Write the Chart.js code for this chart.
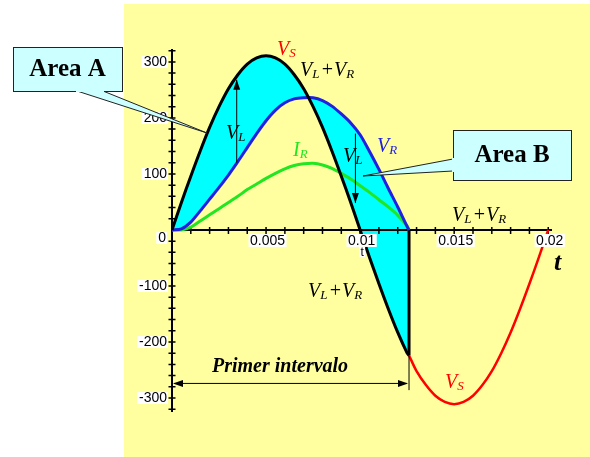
<!DOCTYPE html>
<html>
<head>
<meta charset="utf-8">
<script src="https://cdn.jsdelivr.net/npm/chart.js@4.4.1/dist/chart.umd.min.js"></script>
<style>
  body { margin: 0; background: #fff; }
  canvas { display: block; }
</style>
</head>
<body>
<canvas id="chart" width="590" height="457"></canvas>
<script>
// first half cycle: source voltage = VL + VR while the diode conducts
const tOn = [0, 0.0005, 0.001, 0.0015, 0.002, 0.0025, 0.003, 0.0035, 0.004, 0.0045, 0.005,
	0.0055, 0.006, 0.0065, 0.007, 0.0075, 0.008, 0.0085, 0.009, 0.0095, 0.01,
	0.0105, 0.011, 0.0115, 0.012, 0.0125, 0.0126];
const vlvr = [0, 49, 96, 141, 183, 220, 252, 277, 296, 307, 311,
	307, 296, 277, 252, 220, 183, 141, 96, 49, 0,
	-49, -96, -141, -183, -220, -224];
const vr = [0, 2, 14, 34, 55, 76, 98, 122, 147, 172, 195,
	214, 227, 234, 236, 236, 231, 221, 207, 191, 170,
	140, 108, 74, 41, 6, 0];
const ir = [0, 0, 5, 16, 27, 38, 49, 60, 72, 82, 92,
	101, 109, 115, 118, 119, 116, 110, 101, 91, 79,
	67, 54, 41, 26, 7, 0];

// rest of the cycle, diode off: only Vs
const tOff = [0.0126, 0.013, 0.0135, 0.014, 0.0145, 0.015, 0.0155, 0.016, 0.0165,
	0.017, 0.0175, 0.018, 0.0185, 0.019, 0.0195, 0.02];
const vsOff = [-224, -252, -277, -296, -307, -311, -307, -296, -277,
	-252, -220, -183, -141, -96, -49, 0];

const tCut = 0.0126;
const xTickLabels = [0.005, 0.01, 0.015, 0.02];
const yTickLabels = [300, 200, 100, 0, -100, -200, -300];

const pts = (xs, ys) => xs.map((x, i) => ({ x: x, y: ys[i] }));

function drawParts(ctx, x, y, parts, color) {
	let cx = x;
	ctx.fillStyle = color;
	ctx.textAlign = "left";
	ctx.textBaseline = "alphabetic";
	for (const [s, sub] of parts) {
		ctx.font = sub ? 'italic 13px "Liberation Serif"' : 'italic 20px "Liberation Serif"';
		ctx.fillText(s, cx, sub ? y + 2 : y);
		cx += ctx.measureText(s).width + (sub ? 1 : 0);
	}
}

function arrowHead(ctx, x, y, ang) {
	ctx.save();
	ctx.translate(x, y);
	ctx.rotate(ang);
	ctx.beginPath();
	ctx.moveTo(0, 0);
	ctx.lineTo(-10, -3.5);
	ctx.lineTo(-10, 3.5);
	ctx.closePath();
	ctx.fill();
	ctx.restore();
}

function callout(ctx, box, wedge, text) {
	ctx.fillStyle = "#ccffff";
	ctx.strokeStyle = "#222";
	ctx.lineWidth = 1;
	ctx.beginPath();
	ctx.moveTo(wedge[0][0], wedge[0][1]);
	ctx.lineTo(wedge[1][0], wedge[1][1]);
	ctx.lineTo(wedge[2][0], wedge[2][1]);
	ctx.closePath();
	ctx.fill();
	ctx.stroke();
	ctx.fillRect(box[0], box[1], box[2], box[3]);
	ctx.strokeRect(box[0] + 0.5, box[1] + 0.5, box[2], box[3]);
	// hide the wedge edge where it meets the box
	ctx.fillRect(Math.min(wedge[0][0], wedge[2][0]) - 1, Math.min(wedge[0][1], wedge[2][1]) - 1,
		Math.abs(wedge[2][0] - wedge[0][0]) + 2, Math.abs(wedge[2][1] - wedge[0][1]) + 2);
	ctx.fillStyle = "#000";
	ctx.font = 'bold 25px "Liberation Serif"';
	ctx.textAlign = "center";
	ctx.textBaseline = "middle";
	ctx.fillText(text, box[0] + box[2] / 2, box[1] + box[3] / 2 + 1);
}

const decor = {
	id: "decor",
	beforeDraw(chart) {
		const ctx = chart.ctx;
		ctx.save();
		ctx.fillStyle = "#fff";
		ctx.fillRect(0, 0, chart.width, chart.height);
		ctx.fillStyle = "#ffffa0";
		ctx.fillRect(124, 4, chart.width - 124, chart.height - 4);
		ctx.restore();
	},
	beforeDatasetsDraw(chart) {
		const ctx = chart.ctx;
		const xs = chart.scales.x, ys = chart.scales.y;
		const x0 = xs.getPixelForValue(0), y0 = ys.getPixelForValue(0);
		ctx.save();
		ctx.strokeStyle = "#000";
		ctx.lineWidth = 2;
		ctx.beginPath();
		ctx.moveTo(x0, ys.getPixelForValue(ys.max));
		ctx.lineTo(x0, ys.getPixelForValue(ys.min));
		ctx.moveTo(x0, y0);
		ctx.lineTo(xs.getPixelForValue(xs.max), y0);
		ctx.stroke();
		ctx.lineWidth = 1.5;
		ctx.beginPath();
		for (let k = -16; k <= 16; k++) {
			if (k === 0) continue;
			const y = ys.getPixelForValue(k * 20);
			ctx.moveTo(x0 - 3.5, y);
			ctx.lineTo(x0 + 3.5, y);
		}
		for (let k = 1; k <= 20; k++) {
			const x = xs.getPixelForValue(k * 0.001);
			ctx.moveTo(x, y0 - 3);
			ctx.lineTo(x, y0 + 4);
		}
		ctx.stroke();
		ctx.restore();
	},
	afterDatasetsDraw(chart) {
		const ctx = chart.ctx;
		const xs = chart.scales.x, ys = chart.scales.y;
		const px = v => xs.getPixelForValue(v), py = v => ys.getPixelForValue(v);
		const x0 = px(0), y0 = py(0);
		ctx.save();

		// tick labels on white boxes
		ctx.font = '14px "Liberation Sans"';
		ctx.textBaseline = "middle";
		yTickLabels.forEach(v => {
			const s = String(v);
			const w = ctx.measureText(s).width;
			const right = v === 0 ? x0 - 6 : x0 - 5;
			const cy = v === 0 ? y0 + 8 : py(v);
			ctx.fillStyle = "#fff";
			ctx.fillRect(right - w - 2, cy - 6, w + 3, 12);
			ctx.fillStyle = "#000";
			ctx.textAlign = "right";
			ctx.fillText(s, right, cy + 0.5);
		});
		xTickLabels.forEach(v => {
			const s = String(v);
			const w = ctx.measureText(s).width;
			const cx = px(v) + 1.5;
			ctx.fillStyle = "#fff";
			ctx.fillRect(cx - w / 2 - 1.5, y0 + 4, w + 3, 13);
			ctx.fillStyle = "#000";
			ctx.textAlign = "center";
			ctx.fillText(s, cx, y0 + 11);
		});
		ctx.font = '12px "Liberation Sans"';
		ctx.fillStyle = "#fff";
		ctx.fillRect(px(0.01) - 1, y0 + 17, 6, 10);
		ctx.fillStyle = "#000";
		ctx.fillText("t", px(0.01) + 2, y0 + 23);

		// VL arrows between VR and VL+VR
		ctx.strokeStyle = "#000";
		ctx.fillStyle = "#000";
		ctx.lineWidth = 1;
		const a1 = px(0.00344);
		ctx.beginPath();
		ctx.moveTo(a1, py(120));
		ctx.lineTo(a1, py(268));
		ctx.stroke();
		arrowHead(ctx, a1, py(268), -Math.PI / 2);
		const a2 = px(0.00975);
		ctx.beginPath();
		ctx.moveTo(a2, py(172));
		ctx.lineTo(a2, py(48));
		ctx.stroke();
		arrowHead(ctx, a2, py(48), Math.PI / 2);

		// first interval marker
		const xc = px(tCut);
		ctx.beginPath();
		ctx.moveTo(xc, py(-224));
		ctx.lineTo(xc, py(-286));
		ctx.stroke();
		const ya = py(-274);
		ctx.beginPath();
		ctx.moveTo(x0 + 2, ya);
		ctx.lineTo(xc - 2, ya);
		ctx.stroke();
		arrowHead(ctx, x0 + 1, ya, Math.PI);
		arrowHead(ctx, xc - 1, ya, 0);
		ctx.font = 'bold italic 20px "Liberation Serif"';
		ctx.textAlign = "left";
		ctx.textBaseline = "alphabetic";
		ctx.fillText("Primer intervalo", 212, 372);

		// curve names
		drawParts(ctx, 277, 55, [["V", 0], ["S", 1]], "#ff0000");
		drawParts(ctx, 300, 76, [["V", 0], ["L", 1], ["+", 0], ["V", 0], ["R", 1]], "#000");
		drawParts(ctx, 226, 139, [["V", 0], ["L", 1]], "#000");
		drawParts(ctx, 293, 156, [["I", 0], ["R", 1]], "#22e622");
		drawParts(ctx, 343, 162, [["V", 0], ["L", 1]], "#000");
		drawParts(ctx, 377, 152, [["V", 0], ["R", 1]], "#2020e0");
		drawParts(ctx, 452, 221, [["V", 0], ["L", 1], ["+", 0], ["V", 0], ["R", 1]], "#000");
		drawParts(ctx, 308, 297, [["V", 0], ["L", 1], ["+", 0], ["V", 0], ["R", 1]], "#000");
		drawParts(ctx, 445, 388, [["V", 0], ["S", 1]], "#ff0000");

		ctx.font = 'bold italic 26px "Liberation Serif"';
		ctx.fillStyle = "#000";
		ctx.fillText("t", 554, 270);

		// area callouts
		callout(ctx, [13, 47, 109, 44], [[77, 91], [207, 133], [103, 91]], "Area A");
		callout(ctx, [453, 130, 118, 50], [[453, 159], [363, 176], [453, 171]], "Area B");

		ctx.restore();
	}
};

new Chart("chart", {
	type: "line",
	data: {
		datasets: [{
				label: "VL+VR",
				data: pts(tOn, vlvr),
				borderColor: "#000",
				borderWidth: 3,
				backgroundColor: "#00ffff",
				fill: 1,
				pointRadius: 0,
				tension: 0.3
			},
			{
				label: "VR",
				data: pts(tOn, vr),
				borderColor: "#2020e0",
				borderWidth: 3,
				pointRadius: 0,
				tension: 0.3
			},
			{
				label: "IR",
				data: pts(tOn, ir),
				borderColor: "#22e622",
				borderWidth: 3,
				pointRadius: 0,
				tension: 0.3
			},
			{
				label: "Vs",
				data: pts(tOff, vsOff),
				borderColor: "#ff0000",
				borderWidth: 2.5,
				pointRadius: 0,
				tension: 0.3
			},
			{
				label: "cut",
				data: [{ x: tCut, y: vlvr[vlvr.length - 1] }, { x: tCut, y: 0 }],
				borderColor: "#000",
				borderWidth: 3,
				pointRadius: 0,
				tension: 0
			}
		]
	},
	options: {
		responsive: false,
		devicePixelRatio: 1,
		animation: false,
		layout: { padding: { left: 172, right: 38, top: 49, bottom: 45 } },
		scales: {
			x: { type: "linear", min: 0, max: 0.0202, display: false },
			y: { type: "linear", min: -325, max: 323, display: false }
		},
		plugins: {
			legend: { display: false },
			tooltip: { enabled: false },
			filler: { propagate: false, drawTime: "beforeDatasetsDraw" }
		}
	},
	plugins: [decor]
});
</script>
</body>
</html>
